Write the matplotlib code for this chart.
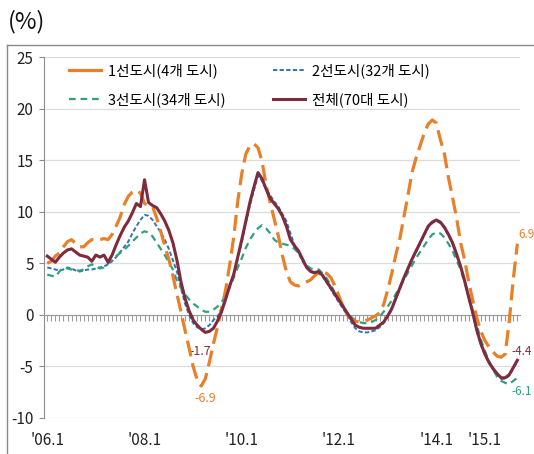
import matplotlib
matplotlib.use('Agg')
import matplotlib.pyplot as plt
import numpy as np
from matplotlib.lines import Line2D

plt.rcParams['font.family'] = ['Noto Sans CJK KR', 'DejaVu Sans']
plt.rcParams['axes.unicode_minus'] = False

# monthly y/y change (%), 2006.1 - 2015.9
tier1 = [5.0, 5.2, 5.7, 6.0, 6.6, 7.1, 7.3, 6.9, 6.6, 6.6, 7.0, 7.3,          # 2006
         7.3, 7.3, 7.4, 7.3, 7.8, 8.6, 9.5, 10.7, 11.5, 11.9, 12.1, 11.8,   # 2007
         10.8, 10.6, 10.5, 9.4, 8.1, 6.7, 5.4, 3.8, 2.0, 0.3, -1.5, -3.2,   # 2008
         -5.0, -6.3, -6.9, -6.2, -4.6, -2.8, -1.2, 0.6, 2.4, 4.8, 7.5, 11.0,  # 2009
         13.7, 15.6, 16.4, 16.6, 16.2, 14.9, 12.6, 10.9, 9.3, 7.7, 5.8, 4.2,  # 2010
         3.2, 2.9, 2.8, 3.0, 3.2, 3.4, 3.8, 4.1, 4.2, 4.0, 3.6, 2.8,         # 2011
         1.8, 0.8, 0.0, -0.4, -0.6, -0.7, -0.6, -0.5, -0.3, -0.1, 0.2, 1.0,  # 2012
         2.4, 4.0, 5.8, 7.4, 9.5, 11.6, 13.8, 15.2, 16.4, 17.6, 18.5, 18.9,  # 2013
         18.6, 17.0, 15.6, 13.3, 11.4, 9.4, 7.0, 5.3, 3.2, 1.4, -0.3, -1.6,  # 2014
         -2.5, -3.1, -3.6, -4.0, -4.1, -3.8, -0.6, 3.5, 6.9]                 # 2015

tier2 = [4.6, 4.5, 4.4, 4.3, 4.4, 4.6, 4.5, 4.3, 4.2, 4.3, 4.4, 4.4,
         4.5, 4.6, 4.7, 4.9, 5.2, 5.6, 6.1, 6.6, 7.1, 7.9, 8.6, 9.2,
         9.7, 9.6, 9.2, 8.6, 8.0, 7.3, 6.4, 5.3, 4.2, 2.6, 1.1, 0.0,
         -0.8, -1.2, -1.4, -1.3, -1.0, -0.5, -0.2, 0.6, 1.6, 2.7, 4.0, 5.5,
         7.0, 8.9, 10.6, 12.1, 13.5, 13.0, 12.2, 11.6, 11.0, 10.5, 9.8, 9.1,
         7.9, 6.8, 6.0, 5.2, 4.6, 4.2, 4.0, 4.0, 3.7, 3.1, 2.5, 1.8,
         1.2, 0.6, 0.0, -0.7, -1.3, -1.6, -1.7, -1.7, -1.6, -1.5, -1.2, -0.8,
         -0.2, 0.5, 1.5, 2.5, 3.5, 4.4, 5.3, 6.1, 6.9, 7.7, 8.5, 8.9,
         9.1, 8.9, 8.4, 7.7, 6.9, 5.8, 4.6, 3.2, 1.6, 0.1, -1.6, -2.9,
         -3.9, -4.7, -5.3, -5.8, -6.2, -6.2, -5.9, -5.2, -4.5]

tier3 = [3.9, 3.8, 3.7, 4.2, 4.6, 4.5, 4.4, 4.3, 4.3, 4.4, 4.7, 4.9,
         4.7, 4.5, 4.6, 5.0, 5.3, 5.7, 6.0, 6.3, 6.7, 7.1, 7.5, 7.9,
         8.1, 8.0, 7.6, 7.0, 6.4, 5.8, 5.1, 4.4, 3.3, 2.6, 2.0, 1.5,
         1.1, 0.8, 0.5, 0.3, 0.3, 0.5, 0.8, 1.2, 1.9, 2.6, 3.6, 4.6,
         5.5, 6.5, 7.3, 7.9, 8.4, 8.7, 8.4, 7.9, 7.3, 7.0, 6.9, 6.8,
         6.7, 6.4, 6.0, 5.4, 4.8, 4.5, 4.4, 4.4, 4.0, 3.5, 2.9, 2.1,
         1.5, 0.8, 0.2, -0.2, -0.5, -0.7, -0.8, -0.8, -0.7, -0.5, -0.2, 0.3,
         0.8, 1.4, 2.0, 2.7, 3.4, 4.1, 4.8, 5.5, 6.1, 6.7, 7.3, 7.8,
         8.0, 7.9, 7.5, 6.9, 6.2, 5.3, 4.4, 3.1, 1.8, 0.4, -1.0, -2.4,
         -3.5, -4.5, -5.3, -6.0, -6.4, -6.6, -6.7, -6.4, -6.1]

total = [5.7, 5.4, 5.1, 5.6, 6.0, 6.3, 6.4, 6.1, 5.8, 5.7, 5.6, 5.2,
         5.8, 5.6, 5.8, 5.1, 5.8, 6.8, 7.7, 8.5, 9.1, 9.9, 10.8, 10.5,
         13.1, 10.9, 10.6, 10.4, 9.8, 9.1, 8.2, 7.0, 5.3, 3.2, 1.6, 0.4,
         -0.5, -1.0, -1.4, -1.7, -1.6, -1.3, -0.6, 0.3, 1.5, 2.8, 3.9, 5.6,
         7.3, 9.1, 10.9, 12.4, 13.8, 13.2, 12.2, 11.3, 10.8, 10.3, 9.6, 8.6,
         7.3, 6.7, 6.2, 5.4, 4.6, 4.2, 4.1, 4.2, 3.8, 3.2, 2.6, 2.0,
         1.4, 0.8, 0.2, -0.4, -1.0, -1.2, -1.3, -1.3, -1.3, -1.3, -1.0, -0.7,
         -0.1, 0.6, 1.6, 2.6, 3.6, 4.5, 5.4, 6.2, 7.0, 7.8, 8.6, 9.0,
         9.2, 9.0, 8.5, 7.8, 7.0, 5.9, 4.7, 3.3, 1.7, 0.2, -1.5, -2.8,
         -3.8, -4.6, -5.2, -5.7, -6.1, -6.1, -5.8, -5.1, -4.4]

tick_idx = [0, 24, 48, 72, 96, 108]
tick_labels = ["'06.1", "'08.1", "'10.1", "'12.1", "'14.1", "'15.1"]

c_t1 = '#E8802A'
c_t2 = '#2E72B8'
c_t3 = '#2FA27A'
c_tot = '#7E2B3E'

fig = plt.figure(figsize=(5.34, 4.54), dpi=100)
ax = fig.add_axes([0.0824, 0.0793, 0.891, 0.795])

x = np.arange(len(total))

ax.plot(x, tier2, color=c_t2, lw=1.4, dashes=(2.2, 1.2), zorder=3)
ax.plot(x, tier3, color=c_t3, lw=1.6, dashes=(3, 2.2), zorder=3)
ax.plot(x, tier1, color=c_t1, lw=2.3, dashes=(5, 2.2), zorder=4)
ax.plot(x, total, color=c_tot, lw=2.2, zorder=5)

ax.set_ylim(-10, 25)
ax.set_xlim(-0.8, len(total) - 0.4)
ax.set_yticks(np.arange(-10, 26, 5))
ax.grid(axis='y', color='#dcdcdc', lw=0.9)
ax.set_axisbelow(True)

for s in ['top', 'right']:
    ax.spines[s].set_visible(False)
ax.spines['left'].set_color('#8c8c8c')
ax.spines['bottom'].set_position(('data', 0))
ax.spines['bottom'].set_color('#9a9a9a')
ax.set_xticks(x, minor=True)
ax.set_xticks([])
ax.tick_params(axis='x', which='minor', direction='out', length=4.5, color='#9a9a9a', width=0.8)
ax.tick_params(axis='y', direction='out', length=3.5, color='#8c8c8c', labelsize=11,
               labelcolor='#222222', pad=4)

sec = ax.secondary_xaxis(0)
sec.set_xticks(tick_idx, tick_labels)
sec.tick_params(length=0, labelsize=11, labelcolor='#222222', pad=10)
sec.spines['bottom'].set_visible(False)

# data labels
ax.annotate('-1.7', xy=(39, total[39]), xytext=(-4, -14), textcoords='offset points',
            ha='center', va='center', fontsize=9, color=c_tot)
ax.annotate('-6.9', xy=(38, tier1[38]), xytext=(3, -9), textcoords='offset points',
            ha='center', va='center', fontsize=9, color=c_t1)
ax.annotate('6.9', xy=(x[-1], tier1[-1]), xytext=(0.5, 6.5), textcoords='offset points',
            ha='left', va='center', fontsize=8.5, color=c_t1, annotation_clip=False)
ax.annotate('-4.4', xy=(x[-1], total[-1]), xytext=(-4, 6.5), textcoords='offset points',
            ha='left', va='center', fontsize=8.5, color=c_tot, annotation_clip=False)
ax.annotate('-6.1', xy=(x[-1], tier3[-1]), xytext=(-4, -10), textcoords='offset points',
            ha='left', va='center', fontsize=8.5, color=c_t3, annotation_clip=False)

# legend
h1 = Line2D([], [], color=c_t1, lw=2.3)
h2 = Line2D([], [], color=c_t2, lw=1.4, dashes=(2.2, 1.2))
h3 = Line2D([], [], color=c_t3, lw=1.6, dashes=(3, 2.2))
h4 = Line2D([], [], color=c_tot, lw=2.2)
ax.legend([h1, h3, h2, h4], ['1선도시(4개 도시)', '3선도시(34개 도시)', '2선도시(32개 도시)', '전체(70대 도시)'],
          ncol=2, loc='upper left', bbox_to_anchor=(0.025, 1.02), frameon=False, fontsize=10.5,
          handlelength=2.2, handletextpad=0.5, columnspacing=3.2, labelspacing=1.0)

# outer chart border and unit label
fig.add_artist(Line2D([7 / 534, 1.0], [1 - 45 / 454, 1 - 45 / 454], color='#8a8a8a', lw=1.0))
fig.add_artist(Line2D([7 / 534, 7 / 534], [0, 1 - 45 / 454], color='#8a8a8a', lw=1.0))
fig.text(8 / 534, 1 - 22 / 454, '(%)', fontsize=17, ha='left', va='center', color='#111111')

fig.savefig('out.png', dpi=100, facecolor='white')
